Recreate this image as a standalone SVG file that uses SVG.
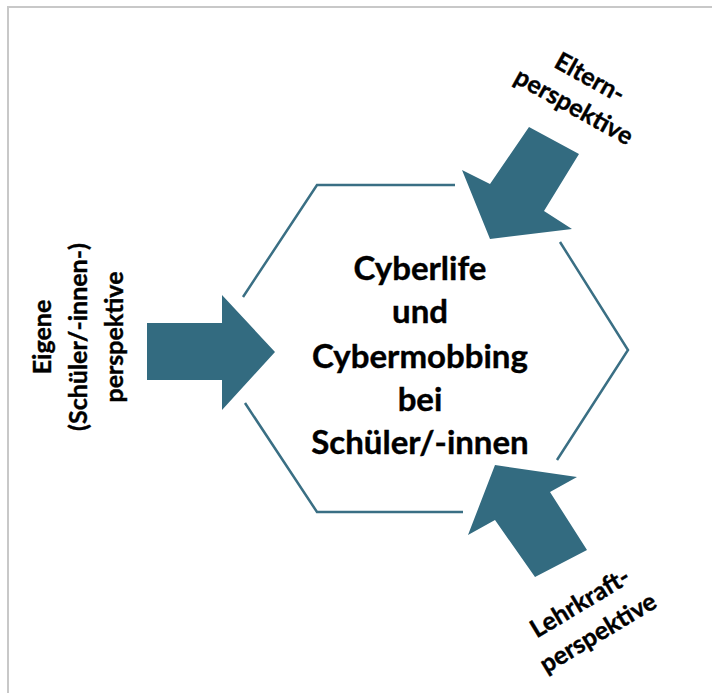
<svg xmlns="http://www.w3.org/2000/svg" width="712" height="693" viewBox="0 0 712 693">
<style>
.arrow{fill:#336B80;stroke:none}
.hex{fill:none;stroke:#3A6F84;stroke-width:2.5;stroke-linecap:butt}
.lbl{font-family:Lato,"Open Sans","Liberation Sans",sans-serif;font-weight:700;fill:#000;stroke:#000;stroke-width:0.4;text-anchor:middle}
.c{font-size:33px}
.s{font-size:25px}
</style>
<rect x="0" y="0" width="712" height="693" fill="#ffffff"/>
<rect x="8" y="7" width="720" height="700" fill="none" stroke="#c8c8c8" stroke-width="2"/>
<g id="connectors">
<polyline class="hex" points="455,185 317,185 243,297"/>
<polyline class="hex" points="245,403 317,512 463,512"/>
<polyline class="hex" points="560,242 628,350 557,460"/>
</g>
<g id="center">
<text class="lbl c" x="420" y="280">Cyberlife</text>
<text class="lbl c" x="420" y="323">und</text>
<text class="lbl c" x="420" y="368">Cybermobbing</text>
<text class="lbl c" x="420" y="411">bei</text>
<text class="lbl c" x="420" y="454">Schüler/-innen</text>
</g>
<g id="arrow-left">
<polygon class="arrow" points="147,323 222,323 222,295 275,352 222,410 222,380 147,380"/>
</g>
<g id="arrow-top">
<polygon class="arrow" points="529,127 579,154 544,211 572,229 490,239 462,170 490,184"/>
</g>
<g id="arrow-bottom">
<polygon class="arrow" points="495,465 577,477 550,492 587,550 535,577 495,520 468,535"/>
</g>
<g id="label-left">
<g transform="translate(0,337) rotate(-90)">
<text class="lbl s" x="0" y="51">Eigene</text>
<text class="lbl s" x="0" y="87">(Schüler/-innen-)</text>
<text class="lbl s" x="0" y="123">perspektive</text>
</g>
</g>
<g id="label-top">
<g transform="translate(582,92) rotate(29)">
<text class="lbl s" x="0" y="-8">Eltern-</text>
<text class="lbl s" x="0" y="25">perspektive</text>
</g>
</g>
<g id="label-bottom">
<g transform="translate(588,616) rotate(-31)">
<text class="lbl s" x="0" y="-7">Lehrkraft-</text>
<text class="lbl s" x="0" y="28">perspektive</text>
</g>
</g>
</svg>
